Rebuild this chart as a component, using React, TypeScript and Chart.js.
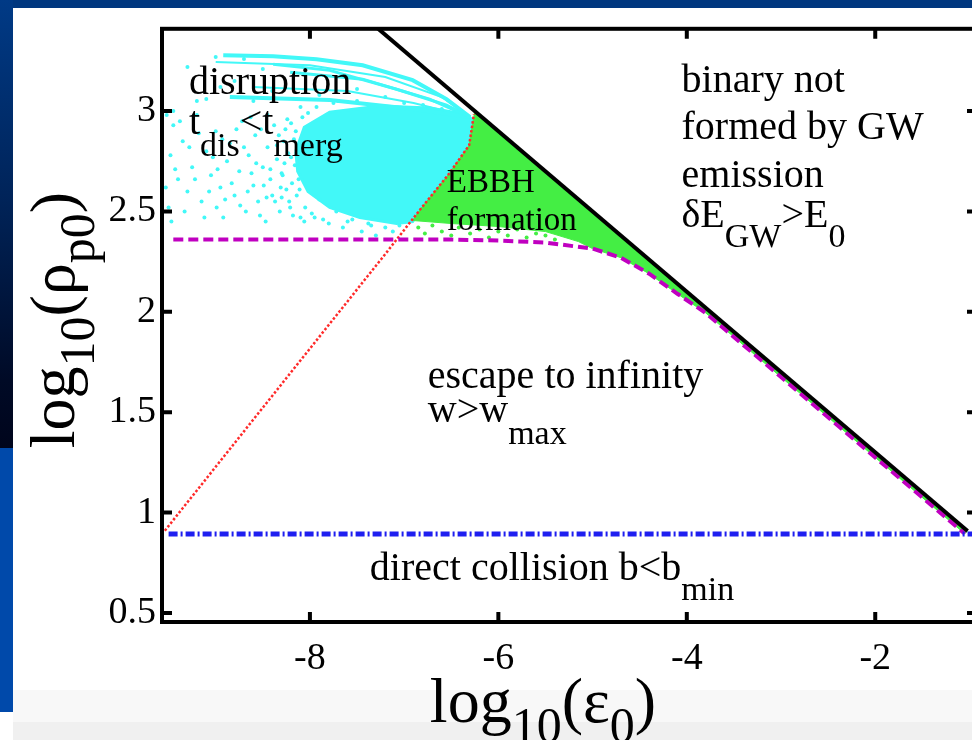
import React, { useEffect, useRef } from "react";
import { Chart, registerables } from "chart.js";

Chart.register(...registerables);

// ---- axes ----
const X_MIN = -9.57;
const X_MAX = -0.92;
const Y_MIN = 0.455;
const Y_MAX = 3.41;
const X_TICKS = [-8, -6, -4, -2];
const Y_TICKS = [0.5, 1, 1.5, 2, 2.5, 3];

// ---- boundary curves (log10 eps0, log10 rho_p0) ----
const GW_X = [-7.35, -1.02];
const GW_Y = [3.44, 0.908];

const COLL_X = [-9.5, -0.5];
const COLL_Y = [0.893, 0.893];

const DISR_X = [-9.54, -8.53, -7.18, -6.83, -6.52, -6.31, -6.28, -6.26];
const DISR_Y = [0.91, 1.505, 2.3, 2.51, 2.69, 2.83, 2.92, 2.985];

const ESC_X = [-9.45, -6.5, -6.0, -5.5, -5.0, -4.7, -4.4, -4.1, -3.8, -3.0, -2.0, -1.05];
const ESC_Y = [2.36, 2.36, 2.355, 2.345, 2.315, 2.27, 2.19, 2.09, 1.995, 1.675, 1.275, 0.895];

// ---- EBBH formation region ----
const EBBH_X = [-6.25, -1.02, -1.05, -2.0, -3.0, -3.8, -4.1, -4.4, -4.7, -5.0, -5.15, -5.5, -6.0, -6.5, -6.91, -6.83, -6.52, -6.31, -6.28, -6.25];
const EBBH_Y = [3.0, 0.908, 0.895, 1.275, 1.675, 1.995, 2.09, 2.19, 2.27, 2.315, 2.35, 2.4, 2.425, 2.44, 2.455, 2.51, 2.69, 2.83, 2.92, 3.0];

const EBBH_DOTS_X = [-6.85, -6.78, -6.7, -6.6, -6.5, -6.42, -6.3, -6.2, -6.1, -6.0, -5.9, -5.8, -5.7, -5.6, -5.5, -5.4];
const EBBH_DOTS_Y = [2.42, 2.39, 2.43, 2.4, 2.38, 2.42, 2.39, 2.41, 2.37, 2.4, 2.38, 2.41, 2.37, 2.39, 2.38, 2.36];

// ---- disruption region ----
const CORE_X = [-8.15, -8.06, -7.79, -7.26, -6.73, -6.36, -6.28, -6.31, -6.52, -6.83, -6.91, -7.08, -7.47, -7.79, -8.02, -8.13, -8.15];
const CORE_Y = [2.8, 2.92, 2.995, 3.025, 3.015, 2.985, 2.96, 2.83, 2.66, 2.51, 2.45, 2.44, 2.47, 2.52, 2.6, 2.7, 2.8];

const ARC1_X = [-8.92, -8.39, -7.93, -7.44, -6.91, -6.55, -6.3];
const ARC1_Y = [3.278, 3.273, 3.258, 3.228, 3.154, 3.06, 2.97];
const ARC2_X = [-8.39, -7.79, -7.08, -6.55, -6.3];
const ARC2_Y = [3.233, 3.203, 3.109, 3.03, 2.97];
const ARC3_X = [-8.21, -7.44, -6.73, -6.3];
const ARC3_Y = [3.194, 3.159, 3.06, 2.97];
const ARC4_X = [-8.85, -7.79, -6.91, -6.3];
const ARC4_Y = [3.07, 3.055, 3.01, 2.97];
const ARC5_X = [-8.6, -7.6, -6.9, -6.3];
const ARC5_Y = [3.12, 3.1, 3.04, 2.97];
const ARC6_X = [-9.0, -8.0, -7.2, -6.6, -6.3];
const ARC6_Y = [3.245, 3.228, 3.17, 3.07, 2.97];

const DOTS_X = [
  -9.5, -9.48, -9.45, -9.4, -9.35, -9.3, -9.25, -9.2, -9.15, -9.1, -9.05, -9.0, -8.95, -8.92, -8.88, -8.85,
  -8.8, -8.75, -8.72, -8.68, -8.65, -8.6, -8.58, -8.55, -8.5, -8.47, -8.45, -8.42, -8.4, -8.38, -8.35, -8.32,
  -8.3, -8.28, -8.25, -8.22, -8.2, -8.18, -8.15, -8.12, -8.05, -7.95, -7.9, -7.8, -7.72, -7.65, -7.55, -7.45,
  -7.38, -7.3, -7.2, -7.12, -7.05, -8.6, -8.4, -8.1, -7.9, -7.7, -7.5, -7.2, -9.1, -8.8, -9.3, -9.0, -8.7, -8.5,
  -8.45, -8.42, -8.37, -8.33, -8.31, -8.27, -8.24, -8.21, -8.17, -8.14, -8.1, -8.08, -8.06, -8.02, -7.98, -7.93,
  -7.86, -7.75, -7.6, -7.5, -7.35, -7.0, -6.8, -6.6, -8.98, -8.93, -8.9, -8.83, -8.78, -8.74, -8.7, -8.66,
  -8.63, -8.62, -8.57, -8.53, -8.52, -8.49, -8.46, -9.53, -9.47, -9.43, -9.38, -9.33, -9.28, -9.22, -9.18, -9.12,
  -9.07, -9.03, -8.99, -9.2, -8.95, -9.45, -9.52, -8.19, -8.23, -8.29, -8.35, -8.16, -8.26, -8.11, -8.2, -8.3,
];
const DOTS_Y = [
  2.52, 2.78, 2.93, 2.66, 2.85, 2.6, 2.72, 2.98, 2.55, 2.8, 2.68, 2.9, 2.62, 2.47, 2.75, 2.84,
  2.58, 2.7, 2.95, 2.5, 2.78, 2.63, 2.88, 2.55, 2.72, 2.45, 2.82, 2.66, 2.58, 2.93, 2.76, 2.5,
  2.69, 2.85, 2.61, 2.55, 2.77, 2.48, 2.9, 2.66, 2.52, 2.47, 2.56, 2.44, 2.5, 2.42, 2.46, 2.4,
  2.44, 2.38, 2.42, 2.4, 2.43, 3.05, 3.1, 3.02, 3.08, 3.05, 3.11, 3.07, 3.06, 3.15, 3.22, 3.27, 3.26, 3.21,
  2.98, 2.71, 2.55, 2.88, 2.62, 2.74, 2.96, 2.52, 2.86, 2.58, 2.47, 2.97, 2.45, 2.99, 2.49, 3.02,
  2.46, 3.04, 2.45, 3.05, 2.43, 3.04, 3.03, 3.01, 2.71, 2.86, 2.56, 2.64, 2.91, 2.53, 2.82, 2.6,
  2.97, 2.69, 2.74, 2.48, 2.91, 2.63, 2.57, 2.62, 2.45, 2.71, 2.95, 2.5, 2.82, 2.66, 2.89, 2.47,
  2.6, 2.77, 2.52, 3.05, 3.12, 3.0, 2.98, 2.64, 2.79, 2.68, 2.83, 2.73, 2.91, 2.61, 2.94, 2.57,
];

const CYAN = "#42f8f8";
const GREEN = "#44ee44";
const FONT = '"Liberation Serif", "Times New Roman", serif';

const pts = (xs: number[], ys: number[]) => xs.map((x, i) => ({ x, y: ys[i] }));

type Seg = { t: string; sub?: boolean };

function drawRich(
  ctx: CanvasRenderingContext2D,
  segs: Seg[],
  x: number,
  y: number,
  size: number,
  subSize: number,
  subDy: number,
  align: "left" | "center" = "left"
) {
  const fontOf = (s: Seg) => `${s.sub ? subSize : size}px ${FONT}`;
  let total = 0;
  for (const s of segs) {
    ctx.font = fontOf(s);
    total += ctx.measureText(s.t).width;
  }
  let cx = align === "center" ? x - total / 2 : x;
  ctx.textAlign = "left";
  ctx.textBaseline = "alphabetic";
  for (const s of segs) {
    ctx.font = fontOf(s);
    ctx.fillText(s.t, cx, y + (s.sub ? subDy : 0));
    cx += ctx.measureText(s.t).width;
  }
}

const framePlugin = {
  id: "frame",
  afterDatasetsDraw(chart: any) {
    const { ctx, chartArea: a, scales } = chart;
    const xs = scales.x;
    const ys = scales.y;
    ctx.save();
    ctx.strokeStyle = "#000";
    ctx.fillStyle = "#000";
    ctx.lineWidth = 4;
    ctx.strokeRect(a.left, a.top, a.right - a.left, a.bottom - a.top);
    const tl = 10;
    ctx.beginPath();
    for (const v of X_TICKS) {
      const px = xs.getPixelForValue(v);
      ctx.moveTo(px, a.bottom);
      ctx.lineTo(px, a.bottom - tl);
      ctx.moveTo(px, a.top);
      ctx.lineTo(px, a.top + tl);
    }
    for (const v of Y_TICKS) {
      const py = ys.getPixelForValue(v);
      ctx.moveTo(a.left, py);
      ctx.lineTo(a.left + tl, py);
      ctx.moveTo(a.right, py);
      ctx.lineTo(a.right - tl, py);
    }
    ctx.stroke();

    // annotations anchored in data coordinates
    const P = (x: number, y: number): [number, number] => [xs.getPixelForValue(x), ys.getPixelForValue(y)];
    const S = 40, SS = 34, D = 22;
    let p = P(-9.284, 3.084);
    drawRich(ctx, [{ t: "disruption" }], p[0], p[1], S, SS, D);
    p = P(-9.284, 2.886);
    drawRich(ctx, [{ t: "t" }, { t: "dis", sub: true }, { t: "<t" }, { t: "merg", sub: true }], p[0], p[1], S, SS, D);
    p = P(-4.056, 3.094);
    drawRich(ctx, [{ t: "binary not" }], p[0], p[1], S, SS, D);
    p = P(-4.056, 2.861);
    drawRich(ctx, [{ t: "formed by GW" }], p[0], p[1], S, SS, D);
    p = P(-4.056, 2.623);
    drawRich(ctx, [{ t: "emission" }], p[0], p[1], S, SS, D);
    p = P(-4.056, 2.424);
    drawRich(ctx, [{ t: "δE" }, { t: "GW", sub: true }, { t: ">E" }, { t: "0", sub: true }], p[0], p[1], S, SS, 20);
    p = P(-6.548, 2.598);
    drawRich(ctx, [{ t: "EBBH" }], p[0], p[1], 33, 28, 18);
    p = P(-6.548, 2.409);
    drawRich(ctx, [{ t: "formation" }], p[0], p[1], 33, 28, 18);
    p = P(-6.749, 1.62);
    drawRich(ctx, [{ t: "escape to infinity" }], p[0], p[1], S, SS, D);
    p = P(-6.749, 1.452);
    drawRich(ctx, [{ t: "w>w" }, { t: "max", sub: true }], p[0], p[1], S, SS, D);
    p = P(-7.364, 0.663);
    drawRich(ctx, [{ t: "direct collision b<b" }, { t: "min", sub: true }], p[0], p[1], S, SS, 20);

    // axis titles
    drawRich(ctx, [{ t: "log" }, { t: "10", sub: true }, { t: "(ε" }, { t: "0", sub: true }, { t: ")" }], 543, 722, 64, 50, 20, "center");
    ctx.translate(74, 320);
    ctx.rotate(-Math.PI / 2);
    drawRich(ctx, [{ t: "log" }, { t: "10", sub: true }, { t: "(ρ" }, { t: "p0", sub: true }, { t: ")" }], 0, 0, 64, 50, 20, "center");
    ctx.restore();
  },
};

export default function App() {
  const ref = useRef<HTMLCanvasElement | null>(null);

  useEffect(() => {
    if (!ref.current) return;
    const lineDs = (label: string, xs: number[], ys: number[], extra: any) => ({
      label,
      data: pts(xs, ys),
      showLine: true,
      pointRadius: 0,
      tension: 0,
      fill: false,
      ...extra,
    });
    const chart = new Chart(ref.current, {
      type: "scatter",
      data: {
        datasets: [
          lineDs("GW limit", GW_X, GW_Y, { borderColor: "#000", borderWidth: 4, order: 1 }),
          lineDs("collision", COLL_X, COLL_Y, { borderColor: "#1f1ff0", borderWidth: 5, borderDash: [9, 3, 2, 3], order: 2 }),
          lineDs("escape", ESC_X, ESC_Y, { borderColor: "#c000c0", borderWidth: 4, borderDash: [10, 5], order: 3 }),
          lineDs("disruption", DISR_X, DISR_Y, { borderColor: "#ff2a2a", borderWidth: 2.5, borderDash: [2.5, 2], order: 4 }),
          { label: "ebbh dots", data: pts(EBBH_DOTS_X, EBBH_DOTS_Y), pointRadius: 2, pointBorderWidth: 0, pointBackgroundColor: GREEN, order: 5 },
          lineDs("ebbh", EBBH_X, EBBH_Y, { borderColor: GREEN, borderWidth: 1, backgroundColor: GREEN, fill: "shape", order: 6 }),
          { label: "disr dots", data: pts(DOTS_X, DOTS_Y), pointRadius: 2, pointBorderWidth: 0, pointBackgroundColor: CYAN, order: 7 },
          lineDs("arc1", ARC1_X, ARC1_Y, { borderColor: CYAN, borderWidth: 4, order: 8 }),
          lineDs("arc2", ARC2_X, ARC2_Y, { borderColor: CYAN, borderWidth: 3, order: 8 }),
          lineDs("arc3", ARC3_X, ARC3_Y, { borderColor: CYAN, borderWidth: 3, order: 8 }),
          lineDs("arc4", ARC4_X, ARC4_Y, { borderColor: CYAN, borderWidth: 4, order: 8 }),
          lineDs("arc5", ARC5_X, ARC5_Y, { borderColor: CYAN, borderWidth: 2, order: 8 }),
          lineDs("arc6", ARC6_X, ARC6_Y, { borderColor: CYAN, borderWidth: 2, order: 8 }),
          lineDs("core", CORE_X, CORE_Y, { borderColor: CYAN, borderWidth: 3, backgroundColor: CYAN, fill: "shape", order: 9 }),
        ],
      },
      options: {
        animation: false,
        responsive: false,
        events: [],
        layout: { padding: { left: 0, top: 26, right: 23, bottom: 0 } },
        plugins: { legend: { display: false }, tooltip: { enabled: false } },
        scales: {
          x: {
            type: "linear",
            min: X_MIN,
            max: X_MAX,
            afterFit: (s: any) => {
              s.height = 118;
            },
            afterBuildTicks: (s: any) => {
              s.ticks = X_TICKS.map((v) => ({ value: v }));
            },
            ticks: { color: "#000", font: { family: FONT, size: 38 }, padding: 14, maxRotation: 0, autoSkip: false, callback: (v: any) => String(v) },
            grid: { display: false, drawTicks: false },
            border: { display: false },
          },
          y: {
            type: "linear",
            min: Y_MIN,
            max: Y_MAX,
            afterFit: (s: any) => {
              s.width = 162;
            },
            afterBuildTicks: (s: any) => {
              s.ticks = Y_TICKS.map((v) => ({ value: v }));
            },
            ticks: { color: "#000", font: { family: FONT, size: 38 }, padding: 6, autoSkip: false, callback: (v: any) => String(v) },
            grid: { display: false, drawTicks: false },
            border: { display: false },
          },
        },
      },
      plugins: [framePlugin],
    });
    return () => chart.destroy();
  }, []);

  return (
    <div style={{ position: "fixed", left: 0, top: 0, width: 972, height: 740, overflow: "hidden", background: "#ffffff" }}>
      <div style={{ position: "absolute", left: 13, top: 690, width: 959, height: 32, background: "#f8f8f8" }} />
      <div style={{ position: "absolute", left: 13, top: 722, width: 959, height: 18, background: "#f0f0f0" }} />
      <div style={{ position: "absolute", left: 0, top: 0, width: 972, height: 8, background: "#00377f" }} />
      <div style={{ position: "absolute", left: 0, top: 0, width: 13, height: 448, background: "linear-gradient(to bottom, #003a86 0%, #002358 45%, #000a26 85%, #00051c 100%)" }} />
      <div style={{ position: "absolute", left: 0, top: 448, width: 13, height: 264, background: "#0049aa" }} />
      <canvas ref={ref} width={1000} height={740} style={{ position: "absolute", left: 0, top: 0, width: 1000, height: 740 }} />
    </div>
  );
}
